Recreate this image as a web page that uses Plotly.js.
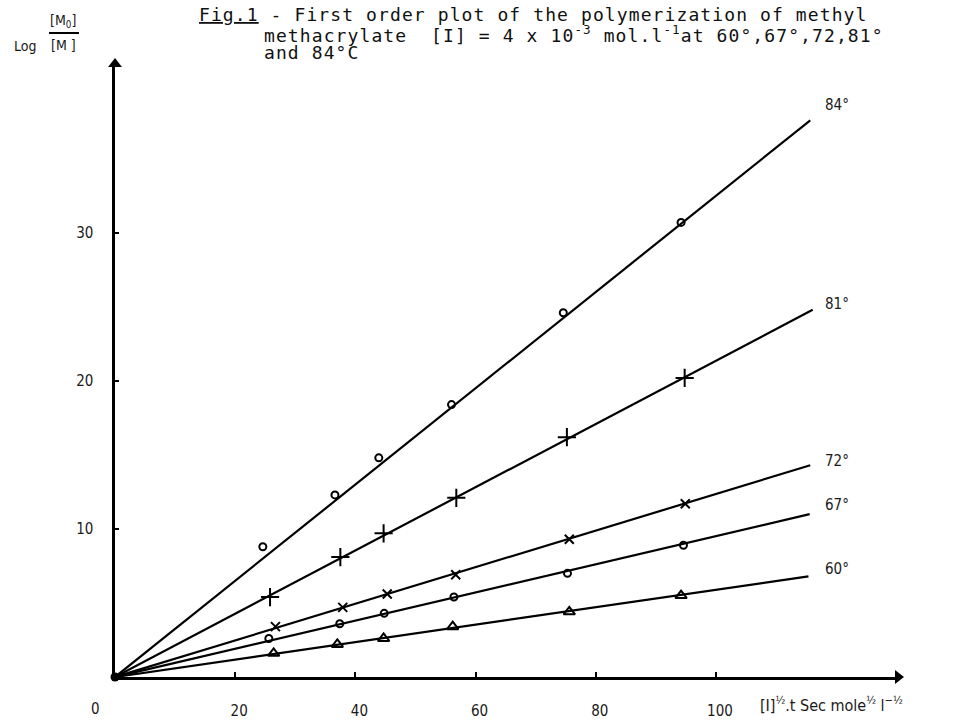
<!DOCTYPE html>
<html>
<head>
<meta charset="utf-8">
<script src="https://cdn.plot.ly/plotly-3.0.1.min.js"></script>
<style>html,body{margin:0;padding:0;background:#fff;}#chart{width:967px;height:722px;}</style>
</head>
<body>
<div id="chart"></div>
<script>
// ---- data ----
const temps = ['84°', '81°', '72°', '67°', '60°'];

const x84 = [24.6, 36.6, 43.9, 56.0, 74.6, 94.2];
const y84 = [8.8, 12.3, 14.8, 18.4, 24.6, 30.7];
const x81 = [25.8, 37.5, 44.7, 56.8, 75.2, 94.8];
const y81 = [5.4, 8.1, 9.7, 12.1, 16.2, 20.2];
const x72 = [26.7, 37.9, 45.3, 56.7, 75.6, 94.9];
const y72 = [3.4, 4.7, 5.6, 6.9, 9.3, 11.7];
const x67 = [25.6, 37.4, 44.8, 56.4, 75.3, 94.6];
const y67 = [2.6, 3.6, 4.3, 5.4, 7.0, 8.9];
const x60 = [26.4, 37.0, 44.7, 56.2, 75.6, 94.2];
const y60 = [1.6, 2.2, 2.6, 3.4, 4.4, 5.5];

// straight lines drawn from the origin to their end points
const lineStartX = [0, 0, 0, 0, 0];
const lineStartY = [0, 0, 0, 0, 0];
const lineEndX = [115.7, 116.1, 115.7, 115.6, 115.4];
const lineEndY = [37.6, 24.8, 14.3, 11.0, 6.8];
// temperature label anchors
const labelX = [117.8, 117.8, 117.8, 117.8, 117.8];
const labelY = [38.6, 25.2, 14.6, 11.6, 7.3];

const xTicks = [20, 40, 60, 80, 100];
const yTicks = [10, 20, 30];
const xMax = 130.3, yMax = 41.4;

// ---- styling ----
const tickFont = {family: 'DejaVu Sans Condensed, Liberation Sans Narrow, DejaVu Sans, sans-serif', size: 15, color: '#1a1a1a'};
const monoFont = {family: 'DejaVu Sans Mono, Liberation Mono, monospace', size: 18, color: '#111'};

const W = 967, H = 722, L = 115, R = 69, T = 64, B = 45;
const pw = W - L - R, ph = H - T - B;
const px = v => (v - L) / pw;
const py = v => (H - B - v) / ph;

const xs = [x84, x81, x72, x67, x60];
const ys = [y84, y81, y72, y67, y60];
const syms = ['circle-open', 'cross-thin-open', 'x-thin-open', 'circle-open', 'triangle-up-open'];
const sizes = [7, 13, 9, 7, 10];

const traces = [];
for (let i = 0; i < 5; i++) {
  traces.push({
    x: [lineStartX[i], lineEndX[i]], y: [lineStartY[i], lineEndY[i]],
    mode: 'lines', line: {color: '#000', width: 2.2},
    showlegend: false, hoverinfo: 'skip', cliponaxis: false
  });
}
for (let i = 0; i < 5; i++) {
  traces.push({
    x: xs[i], y: ys[i], name: temps[i],
    mode: 'markers',
    marker: {symbol: syms[i], size: sizes[i], color: '#000', line: {color: '#000', width: 2}},
    showlegend: false, cliponaxis: false
  });
}
// origin blob and axis arrowheads
traces.push({x: [0], y: [0], mode: 'markers', marker: {size: 9, color: '#000'}, showlegend: false, cliponaxis: false});
traces.push({x: [xMax], y: [0], mode: 'markers', marker: {symbol: 'triangle-right', size: 12, color: '#000'}, showlegend: false, cliponaxis: false});
traces.push({x: [0], y: [yMax], mode: 'markers', marker: {symbol: 'triangle-up', size: 12, color: '#000'}, showlegend: false, cliponaxis: false});

const annotations = [];
for (let i = 0; i < 5; i++) {
  annotations.push({x: labelX[i], y: labelY[i], xref: 'x', yref: 'y', text: temps[i], showarrow: false,
    xanchor: 'left', yanchor: 'middle', font: tickFont});
}
const pa = (x, y, text, font, xanchor) => ({x: px(x), y: py(y), xref: 'paper', yref: 'paper', text: text,
  showarrow: false, xanchor: xanchor || 'center', yanchor: 'middle', font: font});
const spaced = s => '<span style="letter-spacing:1.1px">' + s + '</span>';
// origin label
annotations.push(pa(95, 709, '0', tickFont));
// x axis title
annotations.push(pa(758, 704, '[I]<sup>½</sup>.t Sec mole<sup>½</sup> l<sup>−½</sup>', {...tickFont, size: 16}, 'left'));
// y axis title (fraction)
annotations.push(pa(25, 46, 'Log', {...tickFont, size: 14}));
annotations.push(pa(63, 21, '[M<sub>0</sub>]', {...tickFont, size: 14}));
annotations.push(pa(63, 45, '[M ]', {...tickFont, size: 14}));
// figure caption
annotations.push(pa(197, 15, spaced('<u>Fig.1</u> - First order plot of the polymerization of methyl'), monoFont, 'left'));
annotations.push(pa(262, 34, spaced('methacrylate  [I] = 4 x 10<sup>-3</sup> mol.l<sup>-1</sup>at 60°,67°,72,81°'), monoFont, 'left'));
annotations.push(pa(262, 53, spaced('and 84°C'), monoFont, 'left'));

const layout = {
  width: W, height: H,
  margin: {l: L, r: R, t: T, b: B, pad: 0},
  paper_bgcolor: '#fff', plot_bgcolor: '#fff',
  showlegend: false,
  xaxis: {range: [0, xMax], tickvals: xTicks, ticktext: xTicks.map(String),
    showgrid: false, zeroline: false, showline: true, linecolor: '#000', linewidth: 2.6,
    ticks: 'inside', ticklen: 5, tickwidth: 2, tickcolor: '#000',
    ticklabelstandoff: 18, ticklabelshift: 4, tickfont: tickFont, fixedrange: true},
  yaxis: {range: [0, yMax], tickvals: yTicks, ticktext: yTicks.map(String),
    showgrid: false, zeroline: false, showline: true, linecolor: '#000', linewidth: 2.6,
    ticks: 'inside', ticklen: 4, tickwidth: 2, tickcolor: '#000',
    ticklabelstandoff: 16, tickfont: tickFont, fixedrange: true},
  annotations: annotations,
  shapes: [{type: 'line', xref: 'paper', yref: 'paper', x0: px(49), x1: px(79), y0: py(33), y1: py(33),
    line: {color: '#000', width: 2}}]
};

Plotly.newPlot('chart', traces, layout, {displayModeBar: false, staticPlot: true});
</script>
</body>
</html>
